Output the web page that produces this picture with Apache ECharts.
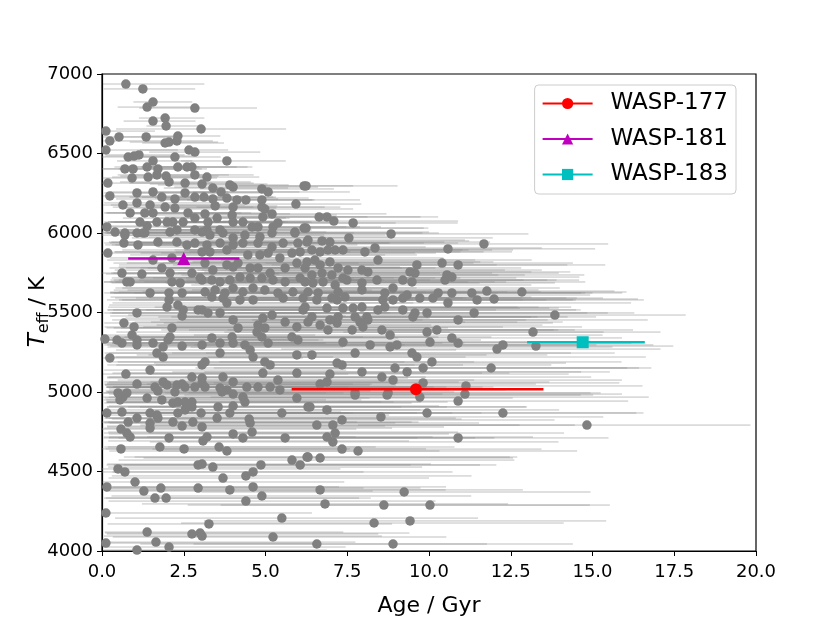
<!DOCTYPE html>
<html><head><meta charset="utf-8">
<script src="https://cdn.jsdelivr.net/npm/echarts@6/dist/echarts.min.js"></script>
<style>html,body{margin:0;padding:0;background:#fff}#c{width:830px;height:622px}</style>
</head><body><div id="c"></div>
<script>
// [age (Gyr), Teff (K), age error low, age error high]
const starsHot = [
[0.73,6937,0.7,2.4],[1.25,6906,1.2,1.6],[1.56,6824,0.6,1.2],[1.38,6792,0.9,1.4],[2.84,6786,1.7,1.9],
[1.56,6704,0.9,1.3],[1.93,6723,0.8,1.2],[1.96,6673,0.6,1.0],[3.03,6654,2.6,2.6],[0.12,6641,0.1,1.5],
[0.24,6579,0.2,1.2],[0.52,6604,0.5,1.8],[1.35,6604,0.8,1.0],[2.32,6610,1.0,1.3],[2.05,6572,1.2,1.5],
[2.29,6579,0.9,1.1],[1.93,6566,0.7,1.8],[2.66,6522,1.5,1.2],[2.84,6509,1.4,2.0],[0.12,6522,0.1,2.2],
[3.82,6453,1.4,1.8],[3.21,6352,1.2,1.6],[3.06,6308,1.6,2.0],[3.39,6283,1.5,2.3],[3.64,6258,2.0,2.4],
[3.91,6302,2.2,1.8],[4.01,6289,1.8,2.6],[4.89,6277,1.9,2.2],[5.08,6258,2.3,2.5],[6.18,6296,2.0,1.5],
[3.12,6226,1.9,2.2],[3.39,6214,1.7,2.0],[3.82,6220,2.2,2.5],[4.13,6208,2.4,2.3],[4.40,6208,1.8,2.1],
[4.89,6208,2.6,3.0],[3.46,6170,2.1,1.9],[4.01,6163,2.5,2.8],[4.89,6163,2.0,2.4],[4.98,6151,2.6,2.7],
[5.93,6182,2.4,2.0],[3.15,6120,2.2,2.6],[3.98,6113,2.8,3.2],[5.20,6120,2.7,3.5],[3.52,6094,1.9,2.1],
[3.24,6069,2.4,3.1],[4.92,6101,3.0,3.2],[4.31,6069,2.2,2.9],[4.01,6069,2.5,2.4],[5.38,6063,2.9,3.6],
[6.18,6031,3.3,3.8],[4.59,6038,2.4,3.3],[4.77,6038,2.9,2.7],[5.23,6038,3.0,3.3],[3.61,6019,2.2,2.8],
[3.21,6019,2.6,3.0],[5.90,6006,3.2,4.1],[6.24,6296,2.2,2.8],[6.64,6101,3.0,3.1],[6.88,6101,2.6,3.4],
[7.09,6075,3.4,3.8],[7.68,6063,3.6,3.2],[6.24,6031,3.0,3.6],[8.84,5994,3.8,4.2],[0.80,6478,0.8,1.3],
[0.98,6484,0.9,1.8],[1.13,6491,1.0,1.4],[1.56,6453,1.1,1.2],[0.70,6403,0.7,1.9],[0.95,6403,0.9,2.1],
[1.38,6415,1.0,1.6],[1.71,6403,1.2,1.5],[2.23,6478,1.3,1.4],[2.32,6415,1.6,1.8],[2.60,6415,1.4,2.0],
[2.75,6415,1.5,1.7],[0.18,6314,0.2,3.2],[0.92,6346,0.9,2.6],[1.41,6352,1.1,1.9],[1.68,6365,1.2,2.2],
[1.96,6358,1.4,1.6],[2.05,6321,1.5,2.5],[2.54,6314,1.7,2.1],[2.84,6365,1.9,1.8],[0.24,6233,0.2,2.8],
[1.07,6252,1.0,2.4],[1.56,6258,1.3,2.3],[1.83,6226,1.5,2.6],[2.23,6214,1.8,2.0],[2.54,6252,1.6,2.7],
[2.84,6226,2.0,2.4],[0.64,6176,0.6,3.0],[1.07,6189,1.0,2.5],[1.47,6176,1.2,2.9],[1.93,6163,1.6,2.7],
[2.23,6157,1.7,3.1],[2.63,6126,2.0,2.6],[0.86,6126,0.8,3.4],[1.31,6126,1.2,2.8],[1.56,6126,1.4,3.0],
[2.84,6094,2.2,2.9],[1.16,6069,1.1,3.3],[1.68,6069,1.5,2.9],[1.99,6069,1.8,3.6],[2.17,6069,1.9,2.7],
[2.48,6069,2.1,3.2],[0.15,6038,0.1,4.5],[1.38,6044,1.3,3.4],[2.29,6019,2.0,3.0],[0.40,6006,0.4,3.8],
[0.70,6000,0.7,3.5],[1.07,6000,1.0,3.9],[1.31,6000,1.2,3.1],[2.84,6019,2.3,3.4],[0.70,5987,0.7,4.2],
[1.25,6000,1.1,3.6],[2.08,6006,1.9,3.3],[3.06,6006,2.5,3.8],[3.30,5987,2.6,3.5],[3.70,6000,2.9,4.0],
[4.01,5969,3.1,3.6],[4.37,5987,3.0,4.3],[4.83,5975,3.4,3.9],[5.20,6000,3.3,4.6],[5.90,6000,3.6,4.4],
[6.30,5956,3.9,4.8],[6.73,5950,3.5,4.5],[6.97,5943,4.0,4.9],[7.55,5969,3.8,4.4],[10.58,5900,4.0,4.5],
[11.68,5931,4.2,3.8],[1.71,5943,1.5,3.7],[2.29,5943,2.0,3.9],[2.60,5925,2.3,3.2],[2.84,5937,2.6,4.1],
[0.67,5937,0.6,3.9],[1.10,5925,1.0,4.4],[3.21,5925,2.8,3.7],[3.61,5937,3.0,4.2],[4.01,5925,3.3,3.8],
[4.31,5937,3.1,4.5],[4.77,5937,3.6,4.0],[5.20,5912,3.5,4.7],[5.54,5937,3.9,4.3],[5.99,5937,3.7,4.9],
[6.27,5943,4.1,4.2]
];
const starsMid = [
[0.18,5874,0.2,4.6],[1.56,5830,1.4,4.0],[2.14,5843,1.9,3.6],[3.06,5881,2.7,4.1],[0.61,5748,0.6,4.8],
[1.22,5742,1.1,4.2],[1.83,5780,1.6,3.9],[2.08,5748,1.8,4.5],[0.76,5692,0.7,5.0],[0.86,5692,0.8,4.3],
[2.14,5692,1.9,4.6],[2.39,5686,2.1,4.0],[2.75,5748,2.4,4.4],[3.00,5717,2.7,4.7],[1.47,5623,1.4,4.9],
[2.05,5623,1.8,4.2],[2.45,5623,2.2,5.1],[2.05,5579,1.9,4.6],[1.99,5534,1.8,5.3],[2.32,5547,2.1,4.4],
[2.48,5516,2.3,4.8],[1.07,5497,1.0,5.5],[2.45,5478,2.2,5.0],[2.94,5516,2.6,4.3],[0.67,5434,0.6,5.8],
[0.98,5409,0.9,5.2],[0.92,5358,0.9,5.6],[2.14,5403,2.0,4.9],[0.09,5333,0.1,6.0],[0.46,5327,0.4,5.4],
[0.61,5308,0.6,6.2],[1.07,5327,1.0,5.7],[1.07,5296,1.0,4.8],[1.56,5308,1.4,5.3],[2.08,5346,1.9,5.9],
[2.02,5327,1.9,4.6],[1.87,5283,1.7,5.5],[2.45,5289,2.2,5.0],[1.68,5245,1.6,6.1],[0.24,5214,0.2,5.9],
[1.87,5220,1.7,5.2],[3.30,5881,2.9,4.3],[3.82,5893,3.2,4.6],[4.46,5862,3.6,4.2],[4.83,5862,3.3,4.8],
[5.08,5874,3.9,4.5],[5.44,5843,3.7,5.0],[5.81,5874,4.0,4.4],[6.06,5881,3.8,4.9],[3.15,5811,2.8,4.7],
[3.39,5767,3.0,4.1],[3.82,5799,3.3,4.5],[4.01,5786,3.5,5.1],[4.16,5811,3.4,4.3],[4.53,5780,3.8,4.9],
[4.77,5780,3.6,4.4],[5.14,5748,4.0,5.2],[5.60,5780,4.2,4.6],[5.96,5811,4.1,5.4],[6.21,5780,4.4,4.8],
[3.06,5704,2.8,5.0],[3.36,5704,3.0,4.5],[3.61,5692,3.2,5.4],[3.91,5704,3.4,4.7],[4.22,5723,3.6,5.0],
[4.53,5717,3.9,4.4],[4.89,5717,3.7,5.3],[5.23,5704,4.1,4.8],[5.60,5692,4.3,5.6],[6.06,5717,4.5,4.9],
[3.15,5629,2.9,5.5],[3.46,5641,3.1,4.8],[3.76,5623,3.4,5.2],[4.01,5654,3.6,4.6],[4.31,5629,3.8,5.6],
[4.62,5654,4.0,5.0],[4.98,5641,4.2,5.4],[5.38,5623,4.4,4.9],[5.84,5629,4.6,5.7],[3.36,5597,3.1,5.1],
[3.70,5591,3.3,5.8],[4.22,5579,3.7,5.3],[4.62,5579,4.0,4.8],[5.54,5591,4.5,5.5],[6.15,5591,4.7,5.0],
[3.82,5560,3.5,5.7],[3.06,5516,2.9,5.4],[3.24,5497,3.0,6.0],[3.61,5497,3.3,5.2],[4.01,5453,3.7,5.8],
[4.92,5465,4.2,5.1],[5.20,5484,4.4,6.2],[5.60,5440,4.6,5.5],[6.15,5516,4.8,5.9],[4.16,5403,3.8,6.1],
[4.77,5421,4.1,5.3],[4.74,5377,4.3,5.9],[4.98,5403,4.4,5.6],[5.96,5409,4.7,6.3],[3.36,5340,3.1,5.7],
[3.98,5346,3.6,6.0],[4.89,5346,4.2,5.4],[5.81,5346,4.8,6.1],[3.06,5296,2.9,6.2],[3.61,5308,3.3,5.5],
[4.01,5308,3.7,6.4],[4.37,5296,3.9,5.8],[5.08,5308,4.5,6.0],[5.99,5327,4.9,5.6],[4.53,5264,4.1,6.3],
[3.61,5245,3.4,5.9],[4.62,5220,4.2,6.5],[5.96,5233,4.9,5.8],[6.42,5893,4.2,4.6],[6.67,5881,4.0,5.0],
[6.91,5893,4.4,4.3],[7.13,5893,4.6,4.8],[7.37,5893,4.3,5.2],[8.04,5881,4.7,4.5],[8.35,5906,4.5,5.1],
[8.44,5830,4.8,4.7],[6.27,5818,4.1,5.3],[6.51,5830,4.3,4.9],[6.67,5799,4.5,5.4],[6.97,5818,4.2,5.0],
[7.22,5780,4.7,5.6],[7.52,5767,4.6,4.8],[7.95,5767,4.9,5.5],[8.13,5755,5.0,5.0],[9.63,5799,5.2,4.6],
[10.40,5811,5.4,4.0],[6.42,5736,4.2,5.7],[6.73,5748,4.4,5.2],[7.03,5736,4.6,5.9],[7.37,5717,4.8,5.3],
[9.42,5755,5.1,4.9],[9.57,5748,5.3,4.4],[10.55,5736,5.5,4.2],[10.70,5723,5.2,3.9],[6.21,5692,4.3,5.8],
[6.45,5686,4.5,5.1],[6.76,5692,4.7,5.6],[7.13,5673,4.4,6.0],[7.49,5704,4.9,5.4],[7.95,5686,5.1,5.9],
[8.41,5704,5.0,5.2],[9.20,5704,5.3,4.7],[9.48,5692,5.5,5.3],[10.49,5704,5.6,4.1],[6.30,5629,4.4,6.1],
[6.61,5623,4.6,5.5],[7.22,5629,4.8,6.2],[7.43,5597,5.0,5.7],[7.95,5642,5.2,5.4],[8.65,5623,5.4,6.0],
[8.90,5654,5.1,5.1],[9.33,5610,5.6,5.6],[9.72,5591,5.7,4.8],[10.12,5591,5.5,5.2],[10.28,5623,5.8,4.5],
[10.70,5623,5.9,4.3],[6.57,5579,4.5,6.3],[7.03,5591,4.9,5.8],[7.19,5579,5.1,6.4],[8.59,5579,5.3,5.9],
[8.90,5579,5.5,5.5],[9.20,5591,5.7,5.0],[10.58,5560,6.0,5.6],[6.21,5534,4.6,6.5],[6.88,5528,4.8,5.9],
[7.37,5528,5.0,6.6],[7.68,5528,5.2,6.0],[7.95,5534,5.4,5.4],[8.44,5516,5.6,6.2],[8.65,5534,5.5,5.7],
[9.20,5516,5.8,5.3],[9.57,5497,6.0,5.9],[9.94,5497,6.1,4.9],[6.42,5472,4.7,6.7],[7.22,5472,5.1,6.1],
[7.74,5472,5.4,6.5],[8.10,5472,5.6,5.8],[9.51,5472,6.0,5.6],[6.30,5440,4.8,6.4],[6.67,5421,5.0,6.8],
[6.97,5453,5.2,6.0],[7.19,5434,5.3,6.6],[7.89,5440,5.6,6.2],[8.13,5453,5.7,5.5],[6.91,5390,5.1,6.9],
[7.65,5390,5.5,6.3],[7.98,5409,5.7,6.7],[8.56,5390,5.9,5.9],[9.94,5377,6.2,5.4],[10.24,5390,6.4,6.0],
[10.70,5340,6.5,5.2],[8.81,5358,6.0,6.5],[7.37,5314,5.4,7.0],[8.20,5296,5.8,6.4],[8.81,5283,6.1,6.8],
[9.02,5296,6.2,6.1],[10.03,5314,6.6,5.7],[6.42,5233,5.0,7.2],[7.74,5245,5.6,6.6],[9.48,5245,6.3,6.2],
[9.63,5220,6.4,7.0],[10.89,5799,5.7,4.5],[11.31,5623,5.8,4.6],[11.77,5635,6.0,3.9],[12.84,5629,5.4,3.2],
[11.47,5579,5.9,5.1],[11.99,5585,6.1,4.4],[11.38,5497,6.2,4.9],[13.85,5484,5.6,4.0],[10.89,5453,6.3,5.8],
[13.18,5377,5.8,3.9],[10.89,5308,6.5,5.3],[12.26,5296,6.4,4.6],[12.08,5270,6.6,5.0],[13.27,5289,6.0,4.2]
];
const starsCool = [
[3.06,5170,2.9,6.5],[1.47,5138,1.4,6.0],[0.73,5113,0.7,6.8],[2.75,5094,2.6,5.7],[3.06,5088,2.9,6.3],
[1.07,5050,1.0,6.6],[1.62,5031,1.5,5.9],[1.87,5063,1.8,7.0],[1.99,5044,1.9,6.2],[2.29,5044,2.2,6.7],
[2.45,5050,2.3,5.8],[2.54,5031,2.4,6.4],[2.84,5031,2.7,7.1],[0.49,4994,0.5,6.9],[0.76,4994,0.7,6.1],
[1.71,5006,1.6,6.5],[2.23,5000,2.1,7.2],[3.06,5057,2.9,6.0],[0.64,4968,0.6,7.0],[0.55,4950,0.5,6.3],
[1.38,4962,1.3,6.8],[1.83,4950,1.7,6.1],[2.17,4931,2.1,7.3],[2.32,4937,2.2,6.6],[2.54,4937,2.4,6.0],
[2.75,4937,2.6,7.0],[2.75,4906,2.6,6.4],[0.15,4868,0.1,7.4],[0.61,4874,0.6,6.7],[1.47,4868,1.4,6.2],
[1.68,4855,1.6,7.1],[2.32,4868,2.2,6.5],[2.54,4887,2.4,7.2],[3.03,4868,2.9,6.6],[0.80,4811,0.8,7.0],
[1.07,4836,1.0,6.4],[1.47,4805,1.4,7.5],[1.71,4836,1.6,6.8],[2.17,4811,2.1,7.3],[2.45,4786,2.3,6.2],
[2.78,4811,2.6,6.9],[0.58,4767,0.6,7.2],[0.76,4742,0.7,6.5],[1.47,4773,1.4,7.4],[0.86,4717,0.8,6.9],
[2.05,4711,2.0,7.6],[3.09,4692,2.9,6.3],[0.58,4642,0.6,7.0],[1.77,4654,1.7,6.6],[2.51,4642,2.4,7.4],
[0.49,4516,0.5,6.8],[0.70,4497,0.7,7.3],[2.94,4541,2.8,6.5],[0.15,4403,0.1,7.1],[1.01,4434,1.0,6.4],
[1.28,4377,1.2,7.0],[1.80,4396,1.7,6.2],[2.94,4396,2.8,6.8],[1.62,4333,1.5,6.6],[1.96,4333,1.9,5.9],
[0.12,4239,0.1,6.3],[1.38,4119,1.3,6.0],[2.75,4107,2.6,5.7],[3.00,4113,2.9,6.4],[3.06,4094,3.0,5.5],
[1.65,4056,1.6,6.1],[2.05,4025,2.0,5.4],[0.12,4050,0.1,6.5],[1.07,4006,1.0,5.8],[3.15,5189,3.0,6.1],
[4.98,5189,4.5,6.4],[5.14,5170,4.7,5.9],[4.92,5119,4.6,6.7],[3.70,5094,3.5,6.2],[4.01,5063,3.8,6.9],
[5.38,5075,4.9,6.0],[5.96,5119,5.2,6.5],[3.15,5031,3.0,7.0],[3.61,5025,3.4,6.3],[3.82,5013,3.6,6.8],
[4.43,5031,4.1,6.1],[4.77,5031,4.4,7.2],[5.14,5031,4.8,6.5],[5.44,5013,5.0,6.9],[3.67,5000,3.5,7.1],
[4.01,4987,3.8,6.4],[4.31,4968,4.1,6.9],[4.37,4937,4.2,6.2],[5.96,4962,5.3,6.6],[3.55,4906,3.4,7.0],
[4.01,4912,3.8,6.3],[3.91,4868,3.7,6.8],[5.50,4868,5.0,6.1],[6.30,4906,5.5,6.7],[3.52,4836,3.3,7.3],
[4.50,4830,4.2,6.5],[4.53,4805,4.3,7.0],[4.59,4748,4.4,6.3],[3.06,4780,2.9,7.4],[4.01,4736,3.8,6.6],
[4.31,4711,4.1,7.1],[5.60,4711,5.1,6.4],[3.21,4717,3.0,6.9],[3.58,4654,3.4,7.2],[3.82,4629,3.6,6.5],
[6.27,4591,5.6,6.2],[5.81,4572,5.3,6.8],[6.06,4541,5.4,6.0],[3.06,4547,2.9,7.0],[3.39,4528,3.2,6.4],
[4.86,4541,4.5,6.7],[4.62,4497,4.3,6.1],[4.40,4472,4.1,6.9],[3.70,4459,3.5,6.3],[3.91,4384,3.7,6.6],
[4.62,4403,4.3,5.9],[4.89,4346,4.6,6.4],[4.40,4314,4.2,5.8],[5.50,4207,5.1,6.0],[3.27,4170,3.1,5.6],
[5.23,4088,4.9,5.3],[7.19,5182,5.6,7.0],[7.34,5170,5.7,6.4],[10.09,5189,6.5,5.8],[9.82,5151,6.4,6.6],
[8.96,5151,6.1,7.1],[7.95,5126,5.8,6.7],[9.33,5126,6.2,6.2],[6.97,5113,5.5,7.3],[6.88,5063,5.4,6.8],
[8.56,5094,6.0,6.4],[8.90,5075,6.2,7.0],[6.67,5050,5.3,6.6],[9.82,5057,6.4,6.0],[7.74,4994,5.8,7.2],
[8.75,4994,6.1,6.5],[7.74,4981,5.9,6.9],[8.72,4981,6.2,6.3],[9.72,4968,6.4,7.0],[6.36,4906,5.2,6.6],
[6.88,4887,5.5,7.1],[9.94,4868,6.5,6.4],[8.53,4843,6.1,6.8],[6.57,4792,5.4,6.2],[7.06,4792,5.6,7.4],
[7.34,4824,5.8,6.5],[7.13,4742,5.7,7.0],[6.88,4717,5.5,6.3],[7.06,4686,5.6,6.9],[7.34,4641,5.8,6.1],
[7.83,4629,6.0,6.7],[6.30,4591,5.3,6.4],[6.67,4585,5.4,5.9],[6.67,4384,5.5,6.2],[9.24,4371,6.2,5.7],
[6.82,4296,5.6,5.6],[8.62,4289,6.0,6.3],[10.03,4289,6.4,5.5],[8.32,4176,5.9,5.8],[9.42,4189,6.3,6.0],
[6.57,4044,5.4,5.2],[8.90,4044,6.1,5.5],[11.13,5038,6.8,5.4],[11.10,4987,6.9,4.8],[11.90,5151,7.0,4.9],
[10.89,4943,6.7,5.2],[12.26,4868,6.9,4.3],[14.83,4792,7.0,5.0],[10.89,4711,6.8,4.6]
];
// Planet hosts: [age, Teff, errLow, errHigh]
const wasp177 = [9.6, 5017, 3.8, 3.9];
const wasp181 = [2.5, 5839, 1.7, 1.7];
const wasp183 = [14.7, 5313, 1.7, 1.9];
const xTicks = [0, 2.5, 5, 7.5, 10, 12.5, 15, 17.5, 20];
const yTicks = [4000, 4500, 5000, 5500, 6000, 6500, 7000];

const stars = starsHot.concat(starsMid, starsCool);
const FONT = 'DejaVu Sans';

function errBar(color, width) {
  return function (params, api) {
    const y = api.value(1);
    const a = api.coord([api.value(0) - api.value(2), y]);
    const b = api.coord([api.value(0) + api.value(3), y]);
    return {type: 'line', shape: {x1: a[0], y1: a[1], x2: b[0], y2: b[1]},
      style: {stroke: color, lineWidth: width}};
  };
}

const chart = echarts.init(document.getElementById('c'), null, {renderer: 'canvas'});
const hosts = [
  {name: 'WASP-177', d: wasp177, color: '#ff0000', symbol: 'circle', size: 12},
  {name: 'WASP-181', d: wasp181, color: '#bf00bf', symbol: 'triangle', size: 13},
  {name: 'WASP-183', d: wasp183, color: '#00bfbf', symbol: 'rect', size: 12}
];
const series = [
  {type: 'custom', name: 'errs', data: stars, encode: {x: 0, y: 1}, clip: true, silent: true,
    renderItem: errBar('rgba(140,140,140,0.55)', 1), z: 1},
  {type: 'scatter', name: 'stars', data: stars.map(s => [s[0], s[1]]), symbolSize: 9.5,
    itemStyle: {color: '#808080', opacity: 1}, z: 2, silent: true}
];
hosts.forEach(h => {
  series.push({type: 'custom', name: h.name + ' err', data: [h.d], encode: {x: 0, y: 1}, clip: true,
    renderItem: errBar(h.color, 2.5), z: 5, silent: true});
  series.push({type: 'line', name: h.name, data: [[h.d[0], h.d[1]]], symbol: h.symbol, symbolSize: h.size,
    lineStyle: {color: h.color, width: 2.5}, itemStyle: {color: h.color}, z: 6, silent: true});
});

chart.setOption({
  animation: false,
  backgroundColor: '#fff',
  grid: {left: 102, right: 74, top: 74, bottom: 71, show: true, borderColor: '#000', borderWidth: 1.2,
    backgroundColor: 'transparent'},
  xAxis: {type: 'value', min: xTicks[0], max: xTicks[xTicks.length - 1], interval: 2.5,
    axisLine: {show: true, lineStyle: {color: '#000', width: 1.2}},
    axisTick: {show: true, inside: false, length: 5, lineStyle: {color: '#000'}},
    axisLabel: {color: '#000', fontFamily: FONT, fontSize: 18, margin: 12, formatter: v => v.toFixed(1)},
    splitLine: {show: false},
    name: 'Age / Gyr', nameLocation: 'middle', nameGap: 44,
    nameTextStyle: {color: '#000', fontFamily: FONT, fontSize: 22}},
  yAxis: {type: 'value', min: yTicks[0], max: yTicks[yTicks.length - 1], interval: 500,
    axisLine: {show: true, lineStyle: {color: '#000', width: 1.2}},
    axisTick: {show: true, inside: false, length: 5, lineStyle: {color: '#000'}},
    axisLabel: {color: '#000', fontFamily: FONT, fontSize: 18, margin: 9, formatter: v => String(v)},
    splitLine: {show: false}},
  graphic: [{type: 'text', x: 38, y: 312, rotation: Math.PI / 2, silent: true,
    style: {text: '{t|T}{s|eff}{n| / K}', align: 'center', verticalAlign: 'middle', fill: '#000',
      fontFamily: FONT, fontSize: 22,
      rich: {t: {fontFamily: FONT, fontSize: 23, fontStyle: 'italic', fill: '#000'},
        s: {fontFamily: FONT, fontSize: 16, fill: '#000', padding: [12, 0, 0, 0]},
        n: {fontFamily: FONT, fontSize: 22, fill: '#000'}}}}],
  legend: {data: hosts.map(h => h.name), orient: 'vertical', right: 94, top: 85,
    itemWidth: 50, itemHeight: 14, itemGap: 12.5,
    backgroundColor: 'rgba(255,255,255,0.8)', borderColor: '#cccccc', borderWidth: 1, borderRadius: 4,
    padding: [7, 8, 8, 7],
    textStyle: {color: '#000', fontFamily: FONT, fontSize: 23, padding: [0, 0, 0, 13]}},
  series: series
});
</script>
</body></html>
